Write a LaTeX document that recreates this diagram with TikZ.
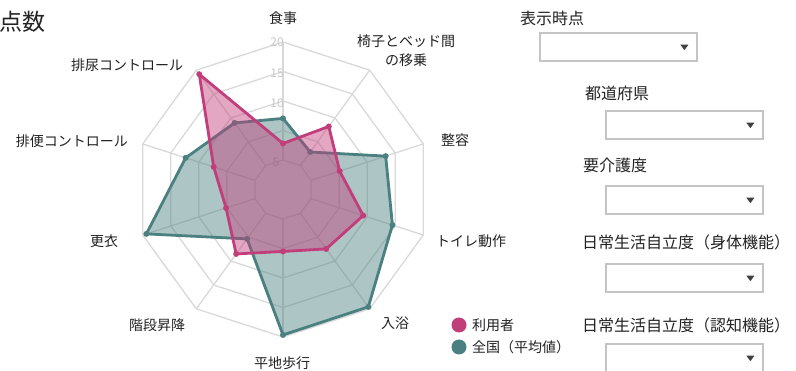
\documentclass[tikz,border=0pt]{standalone}
\usepackage{fontspec}
\setmainfont{Noto Sans CJK JP}
\usetikzlibrary{calc}
\definecolor{gridgray}{HTML}{D9D9D9}
\definecolor{pinkline}{HTML}{C23E7A}
\definecolor{tealline}{HTML}{4A8080}
\definecolor{boxgray}{HTML}{C4C4C4}
\definecolor{arrowgray}{HTML}{404040}
\definecolor{txt}{HTML}{222222}
\definecolor{scalegray}{HTML}{C8C8C8}
\begin{document}
\begin{tikzpicture}[x=1pt,y=-1pt,
  gridline/.style={draw=gridgray, line width=1.3pt},
  axlab/.style={font=\fontsize{14}{19}\selectfont, text=txt, inner sep=0pt, align=center},
  sidelab/.style={font=\fontsize{16}{18}\selectfont, text=txt, inner sep=0pt, anchor=west},
  leglab/.style={font=\fontsize{14}{16}\selectfont, text=txt, inner sep=0pt, anchor=west},
  scalelab/.style={font=\fontsize{12}{14}\selectfont, text=scalegray, inner sep=0pt},
  ddbox/.style={draw=boxgray, line width=2.4pt, fill=white, minimum width=157pt, minimum height=28pt, anchor=north west, inner sep=0pt},
  ddarrow/.style={fill=arrowgray},
  pinkset/.style={draw=pinkline, fill=pinkline, fill opacity=0.45, line width=2.8pt, line join=round},
  tealset/.style={draw=tealline, fill=tealline, fill opacity=0.45, line width=2.8pt, line join=round},
  legdot/.style={circle, minimum size=15pt, inner sep=0pt}]
\useasboundingbox (0,0) rectangle (796,371);
\fill[white] (0,0) rectangle (796,371);

% title
\node[font=\fontsize{23}{25}\selectfont, text=txt, inner sep=0pt, anchor=east] (title) at (45.5,22) {点数};

% radar grid
\begin{scope}[shift={(283,189.5)}, yscale=-1]
  \foreach \r in {1,...,5}{
    \draw[gridline] (90:{\r*29.5}) \foreach \i in {1,...,9}{ -- ({90-36*\i}:{\r*29.5}) } -- cycle;
  }
  \foreach \i in {0,...,9}{
    \draw[gridline] ({90-36*\i}:29.5) -- ({90-36*\i}:147.5);
  }
  \foreach \v [count=\i from 0] in {2.41,1.57,3.66,3.90,4.92,4.93,2.07,4.87,3.47,2.79}{
    \coordinate (t\i) at ({90-36*\i}:{\v*29.5});
  }
  \foreach \v [count=\i from 0] in {1.56,2.64,2.02,2.86,2.49,2.10,2.70,2.03,2.47,4.83}{
    \coordinate (p\i) at ({90-36*\i}:{\v*29.5});
  }
\end{scope}

% scale labels
\node[scalelab] (s20) at (277,42) {20};
\node[scalelab] (s15) at (277,73) {15};
\node[scalelab] (s10) at (277,103) {10};
\node[scalelab] (s5) at (276,162) {5};

% datasets
\path[tealset] (t0) -- (t1) -- (t2) -- (t3) -- (t4) -- (t5) -- (t6) -- (t7) -- (t8) -- (t9) -- cycle;
\foreach \i in {0,...,9}{ \fill[tealline] (t\i) circle (3pt); }
\path[pinkset] (p0) -- (p1) -- (p2) -- (p3) -- (p4) -- (p5) -- (p6) -- (p7) -- (p8) -- (p9) -- cycle;
\foreach \i in {0,...,9}{ \fill[pinkline] (p\i) circle (3pt); }

% axis labels
\node[axlab] (a0) at (283,18) {食事};
\node[axlab] (a1) at (406,51) {椅子とベッド間\\の移乗};
\node[axlab] (a2) at (455,140) {整容};
\node[axlab] (a3) at (471,241) {トイレ動作};
\node[axlab] (a4) at (395,323) {入浴};
\node[axlab] (a5) at (282,363) {平地歩行};
\node[axlab] (a6) at (157,325) {階段昇降};
\node[axlab] (a7) at (104,241) {更衣};
\node[axlab] (a8) at (72,141) {排便コントロール};
\node[axlab] (a9) at (127,65) {排尿コントロール};

% legend
\node[legdot, fill=pinkline] (lp) at (459,325) {};
\node[leglab] (lpt) at (472,325) {利用者};
\node[legdot, fill=tealline] (lt) at (459,347) {};
\node[leglab] (ltt) at (472,347) {全国（平均値）};

% right-side selectors
\node[sidelab] (l1) at (520,18) {表示時点};
\node[ddbox] (dd1) at (539,32) {};
\node[sidelab] (l2) at (585,93) {都道府県};
\node[ddbox] (dd2) at (605,110) {};
\node[sidelab] (l3) at (583,165) {要介護度};
\node[ddbox] (dd3) at (605,185) {};
\node[sidelab] (l4) at (582,242) {日常生活自立度（身体機能）};
\node[ddbox] (dd4) at (605,263) {};
\node[sidelab] (l5) at (582,325) {日常生活自立度（認知機能）};
\node[ddbox] (dd5) at (605,343) {};
\foreach \b in {dd1,dd2,dd3,dd4,dd5}{
  \fill[ddarrow] ($(\b.east)+(-18,-2.5)$) -- ++(8,0) -- ++(-4,5.5) -- cycle;
}
\end{tikzpicture}
\end{document}
